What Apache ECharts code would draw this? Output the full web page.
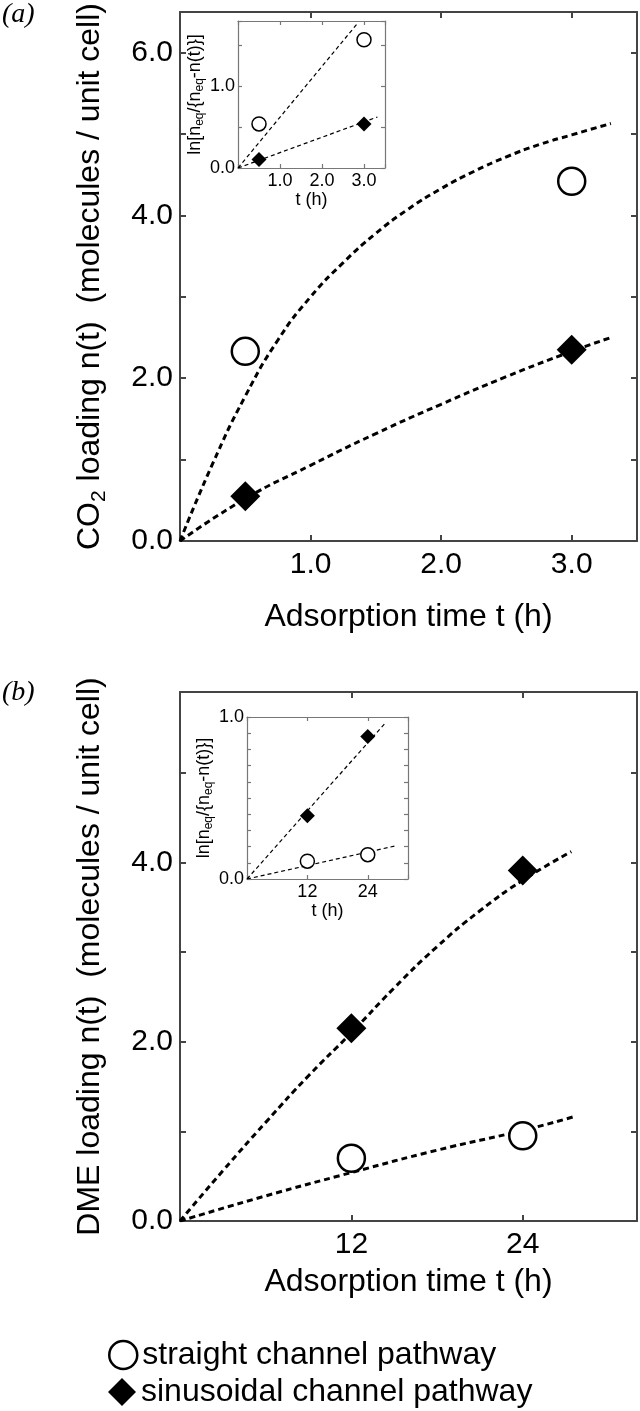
<!DOCTYPE html>
<html>
<head>
<meta charset="utf-8">
<script src="https://cdn.jsdelivr.net/npm/echarts@6/dist/echarts.min.js"></script>
<style>
  html, body { margin: 0; padding: 0; background: #fff; }
  #chart { width: 640px; height: 1411px; }
</style>
</head>
<body>
<div id="chart"></div>
<script>
// ---- panel (a): CO2 loading ----
const aTime = [0.5, 3.0]
const aStraight = [2.33, 4.42]
const aSinus = [0.55, 2.35]
const aFitStraightT = [0, 0.25, 0.5, 0.75, 1.0, 1.25, 1.5, 1.75, 2.0, 2.25, 2.5, 2.75, 3.0, 3.3]
const aFitStraight = [0, 0.95, 1.78, 2.47, 3.0, 3.42, 3.78, 4.08, 4.33, 4.54, 4.72, 4.87, 4.99, 5.13]
const aFitSinusT = [0, 0.5, 1.0, 1.5, 2.0, 2.5, 3.0, 3.3]
const aFitSinus = [0, 0.52, 0.93, 1.32, 1.68, 2.02, 2.33, 2.5]

// inset (a): ln[neq/(neq-n)]
const aInStraight = [0.54, 1.57]
const aInSinus = [0.105, 0.54]
const aInFitStraightT = [0, 2.86]
const aInFitStraight = [0, 1.78]
const aInFitSinusT = [0, 3.32]
const aInFitSinus = [0, 0.625]

// ---- panel (b): DME loading ----
const bTime = [12, 24]
const bStraight = [0.70, 0.95]
const bSinus = [2.15, 3.91]
const bFitSinusT = [0, 3, 6, 9, 12, 15, 18, 21, 24, 27.4]
const bFitSinus = [0, 0.56, 1.1, 1.62, 2.1, 2.6, 3.06, 3.46, 3.8, 4.12]
const bFitStraightT = [0, 6, 12, 18, 24, 27.5]
const bFitStraight = [0, 0.28, 0.54, 0.79, 1.01, 1.16]

// inset (b)
const bInStraight = [0.11, 0.15]
const bInSinus = [0.39, 0.88]
const bInFitSinusT = [0, 27.4]
const bInFitSinus = [0, 0.96]
const bInFitStraightT = [0, 29.6]
const bInFitStraight = [0, 0.205]

// tick labels
const aXLabels = [1, 2, 3]
const aYLabels = [0, 2, 4, 6]
const aInXLabels = [1, 2, 3]
const aInYLabels = [0, 1]
const bXLabels = [12, 24]
const bYLabels = [0, 2, 4]
const bInXLabels = [12, 24]
const bInYLabels = [0, 1]

const FONT = "'Liberation Sans', Arial, sans-serif"
const STRAIGHT = 'straight channel pathway'
const SINUS = 'sinusoidal channel pathway'

const chart = echarts.init(document.getElementById('chart'))

const pick = (ticks, digits) => v =>
  ticks.some(t => Math.abs(t - v) < 1e-6) ? v.toFixed(digits) : ''

const grid = [
  { left: 180, top: 11, width: 458, height: 530 },
  { left: 238, top: 21, width: 147, height: 147, show: true, backgroundColor: '#fff', borderWidth: 0, z: 4 },
  { left: 180, top: 692, width: 458, height: 529 },
  { left: 247, top: 717, width: 161, height: 162, show: true, backgroundColor: '#fff', borderWidth: 0, z: 4 }
]

const xAxis = []
const yAxis = []

const addAxes = (gi, c) => {
  const line = { show: true, onZero: false, lineStyle: { color: c.color, width: c.width } }
  const tick = { show: true, inside: true, length: c.tickLen, lineStyle: { color: c.color, width: c.width } }
  const z = gi % 2 ? 6 : 2
  xAxis.push({
    type: 'value', gridIndex: gi, position: 'bottom', min: c.xMin, max: c.xMax, interval: c.xInt, z,
    axisLine: line, axisTick: tick, splitLine: { show: false },
    axisLabel: { margin: c.xMargin, fontSize: c.font, fontFamily: FONT, color: '#000', formatter: c.xFmt },
    name: c.xName, nameLocation: 'middle', nameGap: c.xNameGap,
    nameTextStyle: { fontSize: c.nameFont, fontFamily: FONT, color: '#000' }
  })
  xAxis.push({
    type: 'value', gridIndex: gi, position: 'top', min: c.xMin, max: c.xMax, interval: c.xInt, z,
    axisLine: line, axisTick: tick, splitLine: { show: false }, axisLabel: { show: false }
  })
  yAxis.push({
    type: 'value', gridIndex: gi, position: 'left', min: c.yMin, max: c.yMax, interval: c.yInt, z,
    axisLine: line, axisTick: tick, splitLine: { show: false },
    axisLabel: { margin: c.yMargin, fontSize: c.font, fontFamily: FONT, color: '#000', formatter: c.yFmt },
    name: c.yName, nameLocation: 'middle', nameGap: c.yNameGap,
    nameTextStyle: {
      fontSize: c.nameFont, fontFamily: FONT, color: '#000', lineHeight: c.nameLH,
      rich: {
        m: { fontSize: c.nameFont, fontFamily: FONT, color: '#000', lineHeight: c.nameLH },
        s: { fontSize: Math.round(c.nameFont * 0.66), fontFamily: FONT, color: '#000', lineHeight: Math.round(c.nameFont * 0.66), verticalAlign: 'bottom' }
      }
    }
  })
  yAxis.push({
    type: 'value', gridIndex: gi, position: 'right', min: c.yMin, max: c.yMax, interval: c.yInt, z,
    axisLine: line, axisTick: tick, splitLine: { show: false }, axisLabel: { show: false }
  })
}

const mainStyle = { color: '#444', width: 2, tickLen: 6, font: 30, nameFont: 32, nameLH: 40, xMargin: 9, yMargin: 7 }
const insetStyle = { color: '#777', width: 1.2, tickLen: 4, font: 18, nameFont: 18, nameLH: 22, xMargin: 4, yMargin: 3 }

addAxes(0, Object.assign({}, mainStyle, {
  xMin: 0, xMax: 3.5, xInt: 1, xFmt: pick(aXLabels, 1),
  yMin: 0, yMax: 6.5, yInt: 1, yFmt: pick(aYLabels, 1),
  xName: 'Adsorption time t (h)', xNameGap: 60,
  yName: '{m|CO}{s|2}{m| loading n(t)  (molecules / unit cell)}', yNameGap: 70
}))
addAxes(1, Object.assign({}, insetStyle, {
  xMin: 0, xMax: 3.5, xInt: 1, xFmt: pick(aInXLabels, 1),
  yMin: 0, yMax: 1.8, yInt: 0.5, yFmt: pick(aInYLabels, 1),
  xName: 't (h)', xNameGap: 22,
  yName: '{m|ln[n}{s|eq}{m|/{n}{s|eq}{m|-n(t)}}]', yNameGap: 24
}))
addAxes(2, Object.assign({}, mainStyle, {
  xMin: 0, xMax: 32, xInt: 12, xFmt: pick(bXLabels, 0),
  yMin: 0, yMax: 5.9, yInt: 1, yFmt: pick(bYLabels, 1),
  xName: 'Adsorption time t (h)', xNameGap: 45,
  yName: '{m|DME loading n(t)  (molecules / unit cell)}', yNameGap: 70
}))
addAxes(3, Object.assign({}, insetStyle, {
  xMin: 0, xMax: 32, xInt: 12, xFmt: pick(bInXLabels, 0),
  yMin: 0, yMax: 1.0, yInt: 0.1, yFmt: pick(bInYLabels, 1),
  xName: 't (h)', xNameGap: 22,
  yName: '{m|ln[n}{s|eq}{m|/{n}{s|eq}{m|-n(t)}}]', yNameGap: 30
}))

const zip = (xs, ys) => xs.map((x, i) => [x, ys[i]])

const fit = (gi, xs, ys, inset) => ({
  type: 'line', xAxisIndex: gi * 2, yAxisIndex: gi * 2, name: 'fit',
  data: zip(xs, ys), smooth: !inset, symbol: 'none', silent: true, z: inset ? 7 : 3,
  lineStyle: inset ? { color: '#000', width: 1.2, type: [4, 3] } : { color: '#000', width: 3, type: [6, 4] }
})

const circles = (gi, xs, ys, size, bw) => ({
  type: 'scatter', name: STRAIGHT, xAxisIndex: gi * 2, yAxisIndex: gi * 2,
  data: zip(xs, ys), symbol: 'circle', symbolSize: size, z: gi % 2 ? 8 : 5,
  itemStyle: { color: '#fff', borderColor: '#000', borderWidth: bw, opacity: 1 }
})

const diamonds = (gi, xs, ys, size) => ({
  type: 'scatter', name: SINUS, xAxisIndex: gi * 2, yAxisIndex: gi * 2,
  data: zip(xs, ys), symbol: 'diamond', symbolSize: size, z: gi % 2 ? 8 : 5,
  itemStyle: { color: '#000', opacity: 1 }
})

const series = [
  fit(0, aFitStraightT, aFitStraight, false),
  fit(0, aFitSinusT, aFitSinus, false),
  circles(0, aTime, aStraight, 27, 2.5),
  diamonds(0, aTime, aSinus, 30),

  fit(1, aInFitStraightT, aInFitStraight, true),
  fit(1, aInFitSinusT, aInFitSinus, true),
  circles(1, aTime, aInStraight, 14, 1.5),
  diamonds(1, aTime, aInSinus, 15),

  fit(2, bFitSinusT, bFitSinus, false),
  fit(2, bFitStraightT, bFitStraight, false),
  circles(2, bTime, bStraight, 27, 2.5),
  diamonds(2, bTime, bSinus, 30),

  fit(3, bInFitSinusT, bInFitSinus, true),
  fit(3, bInFitStraightT, bInFitStraight, true),
  circles(3, bTime, bInStraight, 14, 1.5),
  diamonds(3, bTime, bInSinus, 15)
]

const legendBox = (top, item) => ({
  left: 103, top, itemWidth: 28, itemHeight: 28, itemGap: 0,
  selectedMode: false,
  textStyle: { fontSize: 32, fontFamily: FONT, color: '#000', lineHeight: 36 },
  data: [item]
})

chart.setOption({
  animation: false,
  backgroundColor: '#fff',
  grid,
  xAxis,
  yAxis,
  series,
  legend: [
    legendBox(1332, { name: STRAIGHT, icon: 'circle', itemStyle: { color: '#fff', borderColor: '#000', borderWidth: 2.5 } }),
    legendBox(1369, { name: SINUS, icon: 'diamond', itemStyle: { color: '#000' } })
  ],
  graphic: [
    { type: 'text', left: 2, top: 1, style: { text: '(a)', font: "italic 28px 'Liberation Serif'", fill: '#000' } },
    { type: 'text', left: 2, top: 679, style: { text: '(b)', font: "italic 28px 'Liberation Serif'", fill: '#000' } }
  ]
})
</script>
</body>
</html>
